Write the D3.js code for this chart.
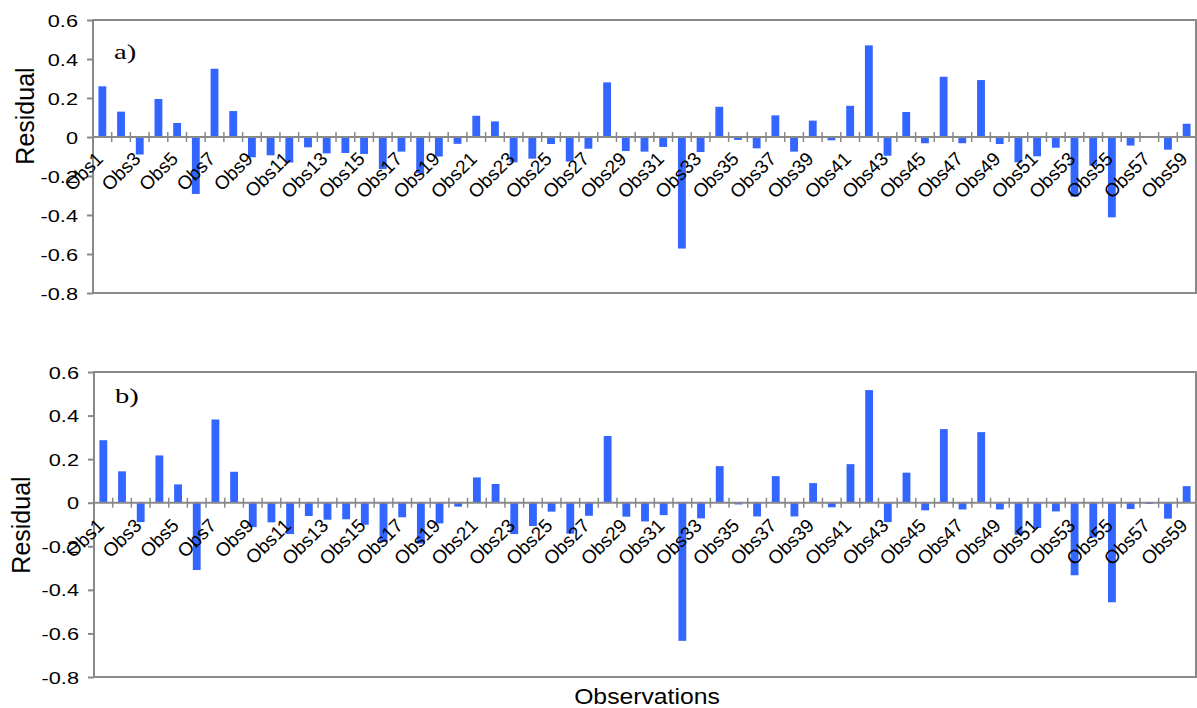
<!DOCTYPE html>
<html><head><meta charset="utf-8">
<script src="https://cdn.jsdelivr.net/npm/d3@7"></script>
<style>body{margin:0;background:#fff}</style>
</head><body><svg id="c" width="1197" height="708"></svg>
<script>
const categories = Array.from({length:59},(_,i)=>"Obs"+(i+1));
const residualsA = [0.26,0.13,-0.09,0.195,0.072,-0.292,0.35,0.133,-0.104,-0.094,
  -0.131,-0.053,-0.084,-0.082,-0.087,-0.164,-0.075,-0.186,-0.10,-0.035,
  0.109,0.08,-0.13,-0.111,-0.036,-0.126,-0.06,0.28,-0.072,-0.075,
  -0.051,-0.572,-0.077,0.155,-0.015,-0.058,0.111,-0.075,0.084,-0.017,
  0.16,0.47,-0.096,0.128,-0.032,0.309,-0.032,0.292,-0.036,-0.13,
  -0.099,-0.055,-0.306,-0.147,-0.412,-0.044,0,-0.065,0.068];
const residualsB = [0.287,0.144,-0.089,0.217,0.084,-0.309,0.382,0.142,-0.112,-0.09,
  -0.144,-0.061,-0.078,-0.076,-0.101,-0.18,-0.067,-0.188,-0.095,-0.018,
  0.116,0.086,-0.144,-0.107,-0.041,-0.142,-0.06,0.306,-0.064,-0.086,
  -0.057,-0.634,-0.072,0.168,-0.008,-0.063,0.122,-0.063,0.09,-0.021,
  0.177,0.517,-0.089,0.138,-0.035,0.338,-0.031,0.324,-0.031,-0.147,
  -0.116,-0.04,-0.333,-0.16,-0.457,-0.029,-0.006,-0.073,0.076];
const yTickValues = [-0.8,-0.6,-0.4,-0.2,0,0.2,0.4,0.6];
const yTickLabels = ["-0.8","-0.6","-0.4","-0.2","0","0.2","0.4","0.6"];
const yTitle = "Residual";
const xTitle = "Observations";

const AX = "#898989", BAR = "#3366ff", SANS = "'Liberation Sans', Arial, sans-serif";
const svg = d3.select("#c");
const panels = [
  {values: residualsA, tag:"a)", x0:93, x1:1196, y0:20, y1:293, labOff:23, tX:25, tY:116, tagX:114, tagY:59},
  {values: residualsB, tag:"b)", x0:94, x1:1196, y0:372, y1:677, labOff:24, tX:21, tY:525, tagX:115, tagY:403}
];

panels.forEach(p => {
  const x = d3.scaleBand().domain(categories).range([p.x0, p.x1]).paddingInner(0.58).paddingOuter(0.29);
  const y = d3.scaleLinear().domain([-0.8, 0.6]).range([p.y1, p.y0]);
  const g = svg.append("g");

  g.append("rect").attr("x", p.x0).attr("y", p.y0).attr("width", p.x1 - p.x0).attr("height", p.y1 - p.y0)
    .attr("fill", "none").attr("stroke", AX).attr("stroke-width", 2);

  g.selectAll("rect.bar").data(p.values).join("rect").attr("class", "bar")
    .attr("x", (d, i) => x(categories[i])).attr("width", x.bandwidth())
    .attr("y", d => y(Math.max(0, d))).attr("height", d => Math.abs(y(d) - y(0)))
    .attr("fill", BAR);

  // zero line + category boundary ticks
  g.append("line").attr("x1", p.x0).attr("x2", p.x1).attr("y1", y(0)).attr("y2", y(0))
    .attr("stroke", AX).attr("stroke-width", 2);
  const half = (x.step() - x.bandwidth()) / 2;
  g.selectAll("line.ct").data(categories.slice(1)).join("line").attr("class", "ct")
    .attr("x1", c => x(c) - half).attr("x2", c => x(c) - half)
    .attr("y1", y(0) - 5).attr("y2", y(0) + 5).attr("stroke", AX).attr("stroke-width", 1.5);

  // y axis
  const sx = 1.28;
  const ya = g.append("g").attr("transform", `translate(${p.x0},0)`)
    .call(d3.axisLeft(y).tickValues(yTickValues).tickFormat((d, i) => yTickLabels[i]).tickSize(6));
  ya.select(".domain").remove();
  ya.selectAll("line").attr("stroke", AX).attr("stroke-width", 2);
  ya.selectAll("text").attr("x", -15 / sx).attr("dy", "0.36em").attr("transform", `scale(${sx},1)`)
    .attr("font-family", SANS).attr("font-size", 17).attr("fill", "#000");

  // category labels (odd observations)
  g.selectAll("text.cl").data(categories.filter((c, i) => i % 2 === 0)).join("text").attr("class", "cl")
    .attr("transform", c => `translate(${x(c) + x.bandwidth() / 2 + 2},${y(0) + p.labOff}) rotate(-45)`)
    .attr("text-anchor", "end")
    .attr("font-family", SANS).attr("font-size", 19).attr("fill", "#000").text(c => c);

  // y title
  g.append("text").attr("transform", `translate(${p.tX},${p.tY}) rotate(-90)`)
    .attr("text-anchor", "middle").attr("dy", "0.35em")
    .attr("font-family", SANS).attr("font-size", 25).attr("fill", "#000").text(yTitle);

  // panel tag
  g.append("text").attr("transform", `translate(${p.tagX},${p.tagY}) scale(1.3,1)`)
    .attr("font-family", "'Liberation Serif', 'Times New Roman', serif").attr("font-size", 22)
    .attr("fill", "#000").text(p.tag);
});

svg.append("text").attr("transform", "translate(647,704) scale(1.1,1)").attr("text-anchor", "middle")
  .attr("font-family", SANS).attr("font-size", 22.5).attr("fill", "#000").text(xTitle);
</script>
</body></html>
